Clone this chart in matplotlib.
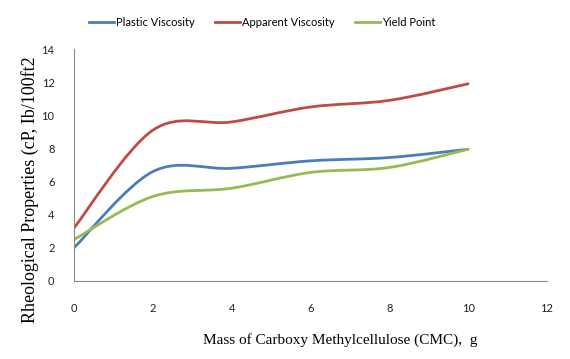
import numpy as np
import matplotlib
matplotlib.use("Agg")
import matplotlib.pyplot as plt
from matplotlib.path import Path
from matplotlib.patches import PathPatch
from matplotlib.lines import Line2D

mass = [0, 2, 4, 6, 8, 10]
plastic = [2.0, 6.6, 6.8, 7.25, 7.45, 7.95]
apparent = [3.2, 9.1, 9.6, 10.5, 10.9, 11.9]
yield_pt = [2.5, 5.1, 5.6, 6.55, 6.85, 7.95]

series = [
    ("Plastic Viscosity", plastic, "#4A7EBB"),
    ("Apparent Viscosity", apparent, "#BE4B48"),
    ("Yield Point", yield_pt, "#98B954"),
]


def smooth_path(xs, ys):
    # excel-style smoothed line as cubic bezier segments
    p = np.column_stack([xs, ys]).astype(float)
    n = len(p)
    verts = [p[0]]
    codes = [Path.MOVETO]
    for i in range(n - 1):
        prev = p[i - 1] if i > 0 else p[i]
        nxt = p[i + 2] if i + 2 < n else p[i + 1]
        c1 = p[i] + (p[i + 1] - prev) / 6
        c2 = p[i + 1] - (nxt - p[i]) / 6
        verts += [c1, c2, p[i + 1]]
        codes += [Path.CURVE4] * 3
    return Path(verts, codes)


fig = plt.figure(figsize=(5.7, 3.59), dpi=100)
ax = fig.add_axes([0.1298, 0.2173, 0.8298, 0.6462])

handles = []
for name, vals, col in series:
    ax.add_patch(PathPatch(smooth_path(mass, vals), facecolor="none",
                           edgecolor=col, lw=2.0, capstyle="round"))
    handles.append(Line2D([], [], color=col, lw=2.0, label=name))

ax.set_xlim(0, 12)
ax.set_ylim(0, 14)
ax.set_xticks(range(0, 13, 2))
ax.set_yticks(range(0, 15, 2))
ax.tick_params(length=0, labelsize=8, colors="#222222", labelfontfamily="Lato")
ax.tick_params(axis="x", pad=16)
ax.tick_params(axis="y", pad=14)
for s in ["top", "right"]:
    ax.spines[s].set_visible(False)
for s in ["left", "bottom"]:
    ax.spines[s].set_color("#888888")
    ax.spines[s].set_linewidth(0.8)

fig.text(0.596, 1 - 340 / 359, "Mass of Carboxy Methylcellulose (CMC),  g",
         family="Liberation Serif", fontsize=11, ha="center", va="center")
fig.text(30 / 570, 1 - 190 / 359, "Rheological Properties (cP, Ib/100ft2",
         family="Liberation Serif", fontsize=13, rotation=90, ha="center", va="center")

fig.legend(handles=handles, loc="center", bbox_to_anchor=(262 / 570, 1 - 22 / 359), ncol=3,
           frameon=False, prop={"family": "Lato", "size": 8},
           handlelength=2.25, columnspacing=1.8, handletextpad=0.2)

fig.savefig("out.png", dpi=100)
